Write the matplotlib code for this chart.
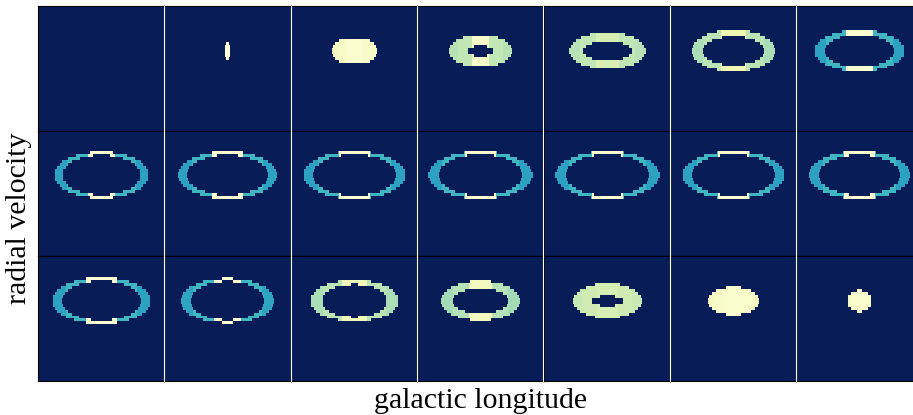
import numpy as np
import matplotlib
matplotlib.use("Agg")
import matplotlib.pyplot as plt
from matplotlib.lines import Line2D

# ---- channel data (21 latitude slices, longitude-velocity planes) ----
# shell outline per channel, in grid cells (longitude cells x velocity cells)
outer_w = [0, 4, 37, 50, 60, 66, 71, 75, 78, 81, 82, 82, 81, 80, 77, 74, 69, 62, 54, 41, 19]
outer_h = [0, 6, 9, 11, 12.4, 14.1, 14.1, 15.5, 15.8, 15.8, 15.8, 15.8, 15.8, 15.8, 15.8, 15.1, 14.1, 13.4, 11.8, 9.4, 7.1]
inner_w = [0, 0, 0, 21, 38, 48, 55, 61, 64, 66, 66, 66, 66, 64, 62, 58, 51, 44, 26, 0, 0]
inner_h = [0, 0, 0, 3.4, 6.4, 9.7, 10.8, 13.4, 13.4, 13.8, 13.8, 13.8, 13.8, 13.4, 13.4, 13.1, 11.1, 8.4, 3.4, 0, 0]

# normalised brightness on the shell: flanks, intermediate arcs, caps
side_level = [0, 1.00, 0.93, 0.72, 0.72, 0.70, 0.43, 0.43, 0.43, 0.43, 0.43, 0.43, 0.43, 0.43, 0.43, 0.44, 0.70, 0.69, 0.75, 0.93, 0.94]
mid_level  = [0, 1.00, 0.95, 0.74, 0.74, 0.73, 0.50, 0.50, 0.50, 0.50, 0.50, 0.50, 0.50, 0.50, 0.50, 0.50, 0.73, 0.72, 0.78, 0.95, 0.96]
cap_level  = [0, 1.00, 0.97, 0.95, 0.80, 0.88, 0.97, 0.97, 0.97, 0.97, 0.97, 0.97, 0.97, 0.97, 0.97, 0.97, 0.90, 0.92, 0.80, 0.96, 0.96]

n_rows, n_cols = 3, 7
n_lon, n_vel = 100, 42
vel_top = 15  # velocity offset of the shell centre from the top of each plane

lon = np.arange(n_lon) - n_lon / 2 + 0.5
vel = vel_top - 0.5 - np.arange(n_vel)
L, V = np.meshgrid(lon, vel)


def channel(k):
    img = np.zeros((n_vel, n_lon))
    ao, bo = outer_w[k] / 2, outer_h[k] / 2
    if ao == 0:
        return img
    inside_out = (L / ao) ** 2 + (V / bo) ** 2 <= 1
    ai, bi = inner_w[k] / 2, inner_h[k] / 2
    if ai > 0:
        inside_in = (L / ai) ** 2 + (V / bi) ** 2 <= 1
    else:
        inside_in = np.zeros_like(inside_out)
    shell = inside_out & ~inside_in
    u = np.abs(L) / ao
    level = np.where(u < 0.3, cap_level[k], np.where(u < 0.72, mid_level[k], side_level[k]))
    img[shell] = level[shell]
    return img


W, H = 913, 415
fig = plt.figure(figsize=(W / 100, H / 100), dpi=100)

left0, top0 = 38, 6
col_step, row_step = 126.4, 125.0

for r in range(n_rows):
    for c in range(n_cols):
        k = r * n_cols + c
        x0 = left0 + c * col_step
        y0 = top0 + r * row_step
        ax = fig.add_axes([x0 / W, 1 - (y0 + row_step) / H, col_step / W, row_step / H])
        ax.imshow(channel(k), cmap="YlGnBu_r", vmin=0, vmax=1,
                  interpolation="nearest", aspect="auto",
                  extent=[lon[0] - 0.5, lon[-1] + 0.5, vel[-1] - 0.5, vel[0] + 0.5])
        ax.set_xticks([])
        ax.set_yticks([])
        for s in ax.spines.values():
            s.set_color("black")
            s.set_linewidth(0.8)

# thin white separators between the columns
y_top = 1 - top0 / H
y_bot = 1 - (top0 + n_rows * row_step) / H
for c in range(1, n_cols):
    xs = (left0 + c * col_step - 0.2) / W
    fig.add_artist(Line2D([xs, xs], [y_bot, y_top], transform=fig.transFigure,
                          color="white", lw=0.8, zorder=10))

serif = ["Liberation Serif", "DejaVu Serif"]
fig.text(480 / W, 1 - 401 / H, "galactic longitude", ha="center", va="center",
         fontsize=21.5, family=serif)
fig.text(19 / W, 1 - 218 / H, "radial velocity", ha="center", va="center",
         rotation=90, fontsize=21.5, family=serif)

fig.savefig("out.png", dpi=100)
